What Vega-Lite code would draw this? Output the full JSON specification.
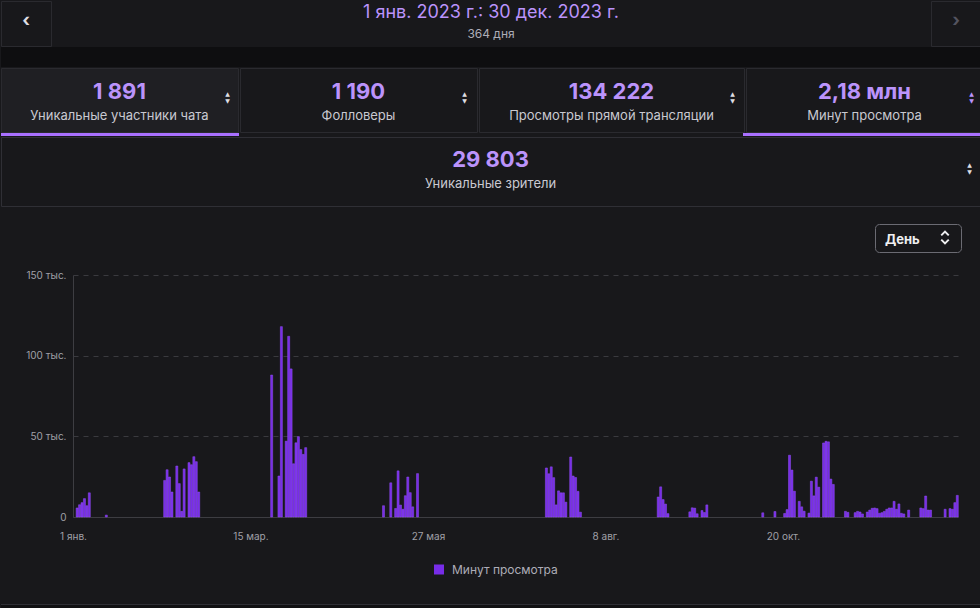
{
  "$schema": "https://vega.github.io/schema/vega-lite/v6.json",
  "background": "#18181b",
  "padding": 0,
  "config": {
    "font": "Inter",
    "view": {"stroke": null},
    "concat": {"spacing": 0}
  },
  "vconcat": [
    {
      "hconcat": [
        {
          "width": 50, "height": 45,
          "view": {"stroke": "#2a2a2f"},
          "data": {"values": [{"icon": "‹"}]},
          "mark": {"type": "text", "fontSize": 18, "fontWeight": "bold", "color": "#dedee3", "dy": -3},
          "encoding": {"text": {"field": "icon"}}
        },
        {
          "width": 878, "height": 45,
          "data": {"values": [{"range": "1 янв. 2023 г.: 30 дек. 2023 г.", "days": "364 дня"}]},
          "layer": [
            {"mark": {"type": "text", "fontSize": 18, "color": "#bb93fb", "dy": -10.5}, "encoding": {"text": {"field": "range"}}},
            {"mark": {"type": "text", "fontSize": 12, "color": "#adadb8", "dy": 10}, "encoding": {"text": {"field": "days"}}}
          ]
        },
        {
          "width": 50, "height": 45,
          "view": {"stroke": "#2a2a2f"},
          "data": {"values": [{"icon": "›"}]},
          "mark": {"type": "text", "fontSize": 18, "fontWeight": "bold", "color": "#53535f", "dy": -3},
          "encoding": {"text": {"field": "icon"}}
        }
      ]
    },
    {
      "width": 980, "height": 20,
      "view": {"fill": "#0e0e10"},
      "data": {"values": [{}]},
      "mark": {"type": "rect", "opacity": 0},
      "encoding": {}
    },
    {
      "hconcat": [
        {
          "width": 237, "height": 64,
          "view": {"fill": "#1f1f23", "stroke": "#2a2a2f"},
          "data": {"values": [{"value": "1 891", "label": "Уникальные участники чата"}]},
          "layer": [
            {"mark": {"type": "text", "fontSize": 22, "fontWeight": "bold", "color": "#bb93fb", "dy": -8.5}, "encoding": {"text": {"field": "value"}}},
            {"mark": {"type": "text", "fontSize": 13, "color": "#c9c9d1", "dy": 15.5}, "encoding": {"text": {"field": "label"}}},
            {"mark": {"type": "text", "text": "▲", "font": "DejaVu Sans", "fontSize": 6, "color": "#dedee3", "dx": 108, "dy": -6}},
            {"mark": {"type": "text", "text": "▼", "font": "DejaVu Sans", "fontSize": 6, "color": "#dedee3", "dx": 108, "dy": 1}}
          ]
        },
        {
          "width": 237, "height": 64,
          "view": {"stroke": "#2a2a2f"},
          "data": {"values": [{"value": "1 190", "label": "Фолловеры"}]},
          "layer": [
            {"mark": {"type": "text", "fontSize": 22, "fontWeight": "bold", "color": "#bb93fb", "dy": -8.5}, "encoding": {"text": {"field": "value"}}},
            {"mark": {"type": "text", "fontSize": 13, "color": "#c9c9d1", "dy": 15.5}, "encoding": {"text": {"field": "label"}}},
            {"mark": {"type": "text", "text": "▲", "font": "DejaVu Sans", "fontSize": 6, "color": "#dedee3", "dx": 106, "dy": -6}},
            {"mark": {"type": "text", "text": "▼", "font": "DejaVu Sans", "fontSize": 6, "color": "#dedee3", "dx": 106, "dy": 1}}
          ]
        },
        {
          "width": 265, "height": 64,
          "view": {"stroke": "#2a2a2f"},
          "data": {"values": [{"value": "134 222", "label": "Просмотры прямой трансляции"}]},
          "layer": [
            {"mark": {"type": "text", "fontSize": 22, "fontWeight": "bold", "color": "#bb93fb", "dy": -8.5}, "encoding": {"text": {"field": "value"}}},
            {"mark": {"type": "text", "fontSize": 13, "color": "#c9c9d1", "dy": 15.5}, "encoding": {"text": {"field": "label"}}},
            {"mark": {"type": "text", "text": "▲", "font": "DejaVu Sans", "fontSize": 6, "color": "#dedee3", "dx": 121, "dy": -6}},
            {"mark": {"type": "text", "text": "▼", "font": "DejaVu Sans", "fontSize": 6, "color": "#dedee3", "dx": 121, "dy": 1}}
          ]
        },
        {
          "width": 237, "height": 64,
          "view": {"stroke": "#2a2a2f"},
          "data": {"values": [{"value": "2,18 млн", "label": "Минут просмотра"}]},
          "layer": [
            {"mark": {"type": "text", "fontSize": 22, "fontWeight": "bold", "color": "#bb93fb", "dy": -8.5}, "encoding": {"text": {"field": "value"}}},
            {"mark": {"type": "text", "fontSize": 13, "color": "#c9c9d1", "dy": 15.5}, "encoding": {"text": {"field": "label"}}},
            {"mark": {"type": "text", "text": "▲", "font": "DejaVu Sans", "fontSize": 6, "color": "#bb93fb", "dx": 107, "dy": -6}},
            {"mark": {"type": "text", "text": "▼", "font": "DejaVu Sans", "fontSize": 6, "color": "#bb93fb", "dx": 107, "dy": 1}}
          ]
        }
      ]
    },
    {
      "hconcat": [
        {"width": 238, "height": 3, "view": {"fill": "#a970ff"}, "data": {"values": [{}]}, "mark": {"type": "rect", "opacity": 0}, "encoding": {}},
        {"width": 238, "height": 3, "data": {"values": [{}]}, "mark": {"type": "rect", "opacity": 0}, "encoding": {}},
        {"width": 266, "height": 3, "data": {"values": [{}]}, "mark": {"type": "rect", "opacity": 0}, "encoding": {}},
        {"width": 238, "height": 3, "view": {"fill": "#a970ff"}, "data": {"values": [{}]}, "mark": {"type": "rect", "opacity": 0}, "encoding": {}}
      ]
    },
    {
      "width": 979, "height": 69,
      "view": {"stroke": "#2f2f35"},
      "data": {"values": [{"value": "29 803", "label": "Уникальные зрители"}]},
      "layer": [
        {"mark": {"type": "text", "fontSize": 22, "fontWeight": "bold", "color": "#bb93fb", "dy": -12}, "encoding": {"text": {"field": "value"}}},
        {"mark": {"type": "text", "fontSize": 13, "color": "#c9c9d1", "dy": 12.5}, "encoding": {"text": {"field": "label"}}},
        {"mark": {"type": "text", "text": "▲", "font": "DejaVu Sans", "fontSize": 6, "color": "#dedee3", "dx": 479, "dy": -7}},
        {"mark": {"type": "text", "text": "▼", "font": "DejaVu Sans", "fontSize": 6, "color": "#dedee3", "dx": 479, "dy": 0}}
      ]
    },
    {
      "hconcat": [
        {"width": 873, "height": 62, "data": {"values": [{}]}, "mark": {"type": "rect", "opacity": 0}, "encoding": {}},
        {
          "vconcat": [
            {"width": 86, "height": 16, "data": {"values": [{}]}, "mark": {"type": "rect", "opacity": 0}, "encoding": {}},
            {
              "width": 86, "height": 28,
              "view": {"stroke": "#6b6b73", "cornerRadius": 4, "strokeWidth": 1},
              "data": {"values": [{"step": "День"}]},
              "layer": [
                {"mark": {"type": "text", "align": "left", "fontSize": 13, "fontWeight": "bold", "color": "#efeff1", "dx": -33, "dy": 1.5}, "encoding": {"text": {"field": "step"}}},
                {"mark": {"type": "point", "shape": "M-1,0.5L0,-0.5L1,0.5", "filled": false, "size": 56, "strokeWidth": 2, "color": "#efeff1", "opacity": 1, "xOffset": 27, "yOffset": -4.5}, "encoding": {}},
                {"mark": {"type": "point", "shape": "M-1,-0.5L0,0.5L1,-0.5", "filled": false, "size": 56, "strokeWidth": 2, "color": "#efeff1", "opacity": 1, "xOffset": 27, "yOffset": 3.5}, "encoding": {}}
              ]
            },
            {"width": 86, "height": 17, "data": {"values": [{}]}, "mark": {"type": "rect", "opacity": 0}, "encoding": {}}
          ]
        },
        {"width": 21, "height": 62, "data": {"values": [{}]}, "mark": {"type": "rect", "opacity": 0}, "encoding": {}}
      ]
    },
    {
      "width": 957, "height": 242,
      "data": {"values": [
        {"date": "2023-01-02", "minutes": 5600},
        {"date": "2023-01-03", "minutes": 7600},
        {"date": "2023-01-04", "minutes": 8900},
        {"date": "2023-01-05", "minutes": 11400},
        {"date": "2023-01-06", "minutes": 7000},
        {"date": "2023-01-07", "minutes": 15000},
        {"date": "2023-01-14", "minutes": 1200},
        {"date": "2023-02-07", "minutes": 22700},
        {"date": "2023-02-08", "minutes": 29300},
        {"date": "2023-02-09", "minutes": 24800},
        {"date": "2023-02-10", "minutes": 15500},
        {"date": "2023-02-12", "minutes": 31600},
        {"date": "2023-02-13", "minutes": 20700},
        {"date": "2023-02-14", "minutes": 3500},
        {"date": "2023-02-15", "minutes": 29800},
        {"date": "2023-02-17", "minutes": 33700},
        {"date": "2023-02-18", "minutes": 32400},
        {"date": "2023-02-19", "minutes": 37400},
        {"date": "2023-02-20", "minutes": 34300},
        {"date": "2023-02-21", "minutes": 15500},
        {"date": "2023-03-23", "minutes": 88000},
        {"date": "2023-03-26", "minutes": 25400},
        {"date": "2023-03-27", "minutes": 118000},
        {"date": "2023-03-29", "minutes": 47000},
        {"date": "2023-03-30", "minutes": 112000},
        {"date": "2023-03-31", "minutes": 91800},
        {"date": "2023-04-01", "minutes": 33000},
        {"date": "2023-04-02", "minutes": 46000},
        {"date": "2023-04-03", "minutes": 49800},
        {"date": "2023-04-04", "minutes": 41800},
        {"date": "2023-04-05", "minutes": 38800},
        {"date": "2023-04-06", "minutes": 43000},
        {"date": "2023-05-08", "minutes": 7000},
        {"date": "2023-05-11", "minutes": 21200},
        {"date": "2023-05-13", "minutes": 5300},
        {"date": "2023-05-14", "minutes": 28600},
        {"date": "2023-05-15", "minutes": 7400},
        {"date": "2023-05-16", "minutes": 4800},
        {"date": "2023-05-17", "minutes": 13200},
        {"date": "2023-05-18", "minutes": 24800},
        {"date": "2023-05-19", "minutes": 15100},
        {"date": "2023-05-20", "minutes": 6300},
        {"date": "2023-05-22", "minutes": 26900},
        {"date": "2023-07-14", "minutes": 30400},
        {"date": "2023-07-15", "minutes": 26800},
        {"date": "2023-07-16", "minutes": 31100},
        {"date": "2023-07-17", "minutes": 24400},
        {"date": "2023-07-18", "minutes": 7500},
        {"date": "2023-07-19", "minutes": 16200},
        {"date": "2023-07-20", "minutes": 15000},
        {"date": "2023-07-21", "minutes": 15000},
        {"date": "2023-07-22", "minutes": 9200},
        {"date": "2023-07-24", "minutes": 37200},
        {"date": "2023-07-25", "minutes": 25400},
        {"date": "2023-07-26", "minutes": 24500},
        {"date": "2023-07-27", "minutes": 15900},
        {"date": "2023-07-28", "minutes": 3000},
        {"date": "2023-08-29", "minutes": 12400},
        {"date": "2023-08-30", "minutes": 18700},
        {"date": "2023-08-31", "minutes": 10800},
        {"date": "2023-09-01", "minutes": 8000},
        {"date": "2023-09-02", "minutes": 2100},
        {"date": "2023-09-11", "minutes": 3200},
        {"date": "2023-09-12", "minutes": 5700},
        {"date": "2023-09-13", "minutes": 5500},
        {"date": "2023-09-14", "minutes": 2000},
        {"date": "2023-09-16", "minutes": 4000},
        {"date": "2023-09-17", "minutes": 2800},
        {"date": "2023-09-18", "minutes": 7500},
        {"date": "2023-10-11", "minutes": 2600},
        {"date": "2023-10-16", "minutes": 3400},
        {"date": "2023-10-20", "minutes": 2200},
        {"date": "2023-10-21", "minutes": 4600},
        {"date": "2023-10-22", "minutes": 38300},
        {"date": "2023-10-23", "minutes": 29100},
        {"date": "2023-10-24", "minutes": 16000},
        {"date": "2023-10-26", "minutes": 9700},
        {"date": "2023-10-27", "minutes": 6300},
        {"date": "2023-10-28", "minutes": 3600},
        {"date": "2023-10-30", "minutes": 2400},
        {"date": "2023-10-31", "minutes": 22200},
        {"date": "2023-11-01", "minutes": 13100},
        {"date": "2023-11-02", "minutes": 24700},
        {"date": "2023-11-03", "minutes": 18500},
        {"date": "2023-11-05", "minutes": 45900},
        {"date": "2023-11-06", "minutes": 46900},
        {"date": "2023-11-07", "minutes": 46600},
        {"date": "2023-11-08", "minutes": 23500},
        {"date": "2023-11-09", "minutes": 20200},
        {"date": "2023-11-14", "minutes": 3500},
        {"date": "2023-11-15", "minutes": 2900},
        {"date": "2023-11-18", "minutes": 2700},
        {"date": "2023-11-19", "minutes": 3500},
        {"date": "2023-11-20", "minutes": 3100},
        {"date": "2023-11-21", "minutes": 1900},
        {"date": "2023-11-23", "minutes": 3100},
        {"date": "2023-11-24", "minutes": 4300},
        {"date": "2023-11-25", "minutes": 5400},
        {"date": "2023-11-26", "minutes": 5600},
        {"date": "2023-11-27", "minutes": 5200},
        {"date": "2023-11-28", "minutes": 2300},
        {"date": "2023-11-29", "minutes": 2700},
        {"date": "2023-11-30", "minutes": 3500},
        {"date": "2023-12-01", "minutes": 4800},
        {"date": "2023-12-02", "minutes": 5600},
        {"date": "2023-12-03", "minutes": 5600},
        {"date": "2023-12-04", "minutes": 9700},
        {"date": "2023-12-05", "minutes": 4800},
        {"date": "2023-12-06", "minutes": 8100},
        {"date": "2023-12-07", "minutes": 2300},
        {"date": "2023-12-08", "minutes": 1900},
        {"date": "2023-12-10", "minutes": 4300},
        {"date": "2023-12-15", "minutes": 5600},
        {"date": "2023-12-16", "minutes": 5200},
        {"date": "2023-12-17", "minutes": 13000},
        {"date": "2023-12-18", "minutes": 4300},
        {"date": "2023-12-19", "minutes": 4300},
        {"date": "2023-12-25", "minutes": 4800},
        {"date": "2023-12-27", "minutes": 5200},
        {"date": "2023-12-28", "minutes": 4800},
        {"date": "2023-12-29", "minutes": 8900},
        {"date": "2023-12-30", "minutes": 13400}
      ]},
      "mark": {"type": "bar", "color": "#772ce8", "stroke": "#9552f5", "strokeWidth": 0.5, "binSpacing": 0.4},
      "encoding": {
        "x": {
          "field": "date", "type": "temporal", "timeUnit": "utcyearmonthdate",
          "scale": {"type": "utc", "nice": false, "range": [72, 957], "domain": [
            {"year": 2023, "month": 1, "date": 1, "utc": true},
            {"year": 2023, "month": 12, "date": 31, "utc": true}
          ]},
          "axis": {
            "title": null,
            "values": [
              {"year": 2023, "month": 1, "date": 1, "utc": true},
              {"year": 2023, "month": 3, "date": 15, "utc": true},
              {"year": 2023, "month": 5, "date": 27, "utc": true},
              {"year": 2023, "month": 8, "date": 8, "utc": true},
              {"year": 2023, "month": 10, "date": 20, "utc": true}
            ],
            "labelExpr": "utcdate(datum.value) + ' ' + ['янв.','февр.','мар.','апр.','мая','июн.','июл.','авг.','сент.','окт.','нояб.','дек.'][utcmonth(datum.value)]",
            "labelFlush": false,
            "labelOverlap": false,
            "ticks": false,
            "grid": false,
            "domainColor": "#3d3d42",
            "labelColor": "#a0a0a8",
            "labelFontSize": 10,
            "labelPadding": 14,
            "minExtent": 30,
            "maxExtent": 30
          }
        },
        "y": {
          "field": "minutes", "type": "quantitative",
          "scale": {"domain": [0, 150000], "nice": false},
          "axis": {
            "title": null,
            "values": [0, 50000, 100000, 150000],
            "labelExpr": "datum.value == 0 ? '0' : (datum.value / 1000) + ' тыс.'",
            "labelFlush": false,
            "ticks": false,
            "grid": true,
            "gridDash": [5, 5],
            "gridColor": "#3a3a3f",
            "domainColor": "#3d3d42",
            "labelColor": "#a0a0a8",
            "labelFontSize": 10,
            "labelPadding": 7,
            "offset": -72
          }
        }
      }
    },
    {
      "width": 980, "height": 57,
      "data": {"values": [{"series": "Минут просмотра"}]},
      "layer": [
        {"mark": {"type": "point", "shape": "square", "filled": true, "size": 100, "color": "#772ce8", "opacity": 1, "xOffset": -52, "yOffset": -6}, "encoding": {}},
        {"mark": {"type": "text", "align": "left", "fontSize": 12, "color": "#adadb8", "dx": -39, "dy": -6}, "encoding": {"text": {"field": "series"}}}
      ]
    },
    {
      "width": 980, "height": 1,
      "view": {"fill": "#2f2f35"},
      "data": {"values": [{}]},
      "mark": {"type": "rect", "opacity": 0},
      "encoding": {}
    },
    {
      "width": 980, "height": 3,
      "view": {"fill": "#111113"},
      "data": {"values": [{}]},
      "mark": {"type": "rect", "opacity": 0},
      "encoding": {}
    }
  ]
}
